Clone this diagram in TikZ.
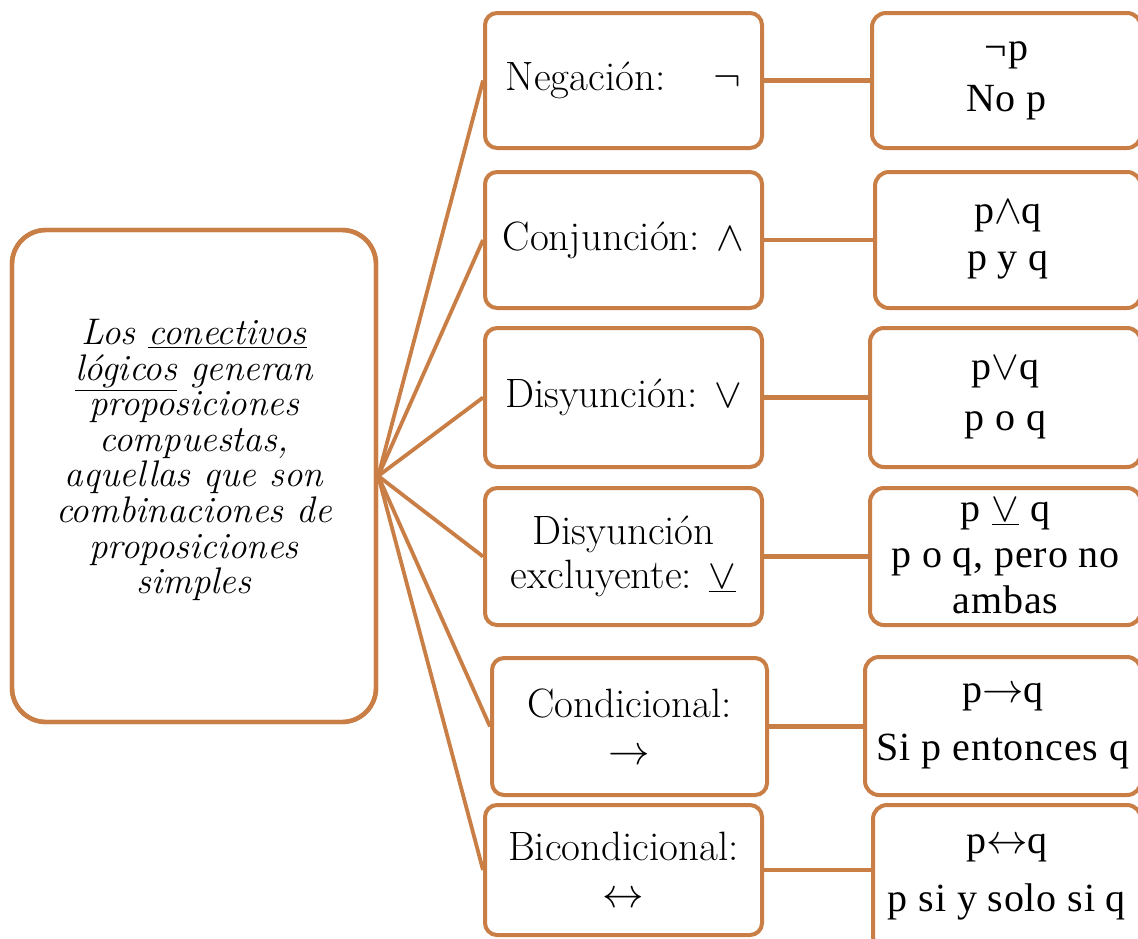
\documentclass[tikz,border=0pt]{standalone}
\usepackage{fontspec}
\newfontfamily\rfont[LetterSpace=2]{Liberation Serif}
\definecolor{brn}{RGB}{201,126,70}
\tikzset{
  basebox/.style={draw=brn, line width=2pt, fill=white, inner sep=0pt, align=center},
  midbox/.style={basebox, rounded corners=6pt, font={\fontsize{20.5}{22}\selectfont}},
  rightbox/.style={basebox, rounded corners=7pt, font={\rfont\fontsize{20}{25}\selectfont}},
  bigbox/.style={draw=brn, line width=2.2pt, fill=white, rounded corners=17pt, inner sep=0pt},
  bigtext/.style={align=center, inner sep=0pt, font={\fontsize{18.5}{17.8}\selectfont\lineskiplimit=-20pt\itshape\addfontfeatures{LetterSpace=5}}},
  fanline/.style={draw=brn, line width=1.9pt},
  hline/.style={draw=brn, line width=2.3pt}
}
\begin{document}
\begin{tikzpicture}[x=0.5pt,y=-0.5pt]
\useasboundingbox (0,0) rectangle (1138,938);
\clip (0,0) rectangle (1138,938);
\fill[white] (0,0) rectangle (1138,938);

% left box
\node[bigbox, minimum width=182pt, minimum height=246pt] (L) at (194,476) {};

% middle boxes
\node[midbox, minimum width=138.5pt, minimum height=67.5pt] (m1) at (623.5,80.5) {Negación:\hspace{24pt}$\neg$};
\node[midbox, minimum width=138.5pt, minimum height=68pt] (m2) at (623.5,240) {Conjunción: $\wedge$};
\node[midbox, minimum width=138.5pt, minimum height=69.5pt] (m3) at (623.5,397.5) {Disyunción: $\vee$};
\node[midbox, minimum width=138.5pt, minimum height=68.5pt] (m4) at (623.5,556.5) {Disyunción\\excluyente: \underline{$\vee$}};
\node[midbox, minimum width=137.5pt, minimum height=68.5pt] (m5) at (629.5,726.5) {Condicional:\\[1.5pt]$\rightarrow$};
\node[midbox, minimum width=138.5pt, minimum height=65pt] (m6) at (623.5,870) {Bicondicional:\\[1.5pt]$\leftrightarrow$};

% right boxes
\node[rightbox, minimum width=134.5pt, minimum height=67.5pt] (r1) at (1006.5,80.5) {¬p\\[0.5pt]No p};
\node[rightbox, minimum width=133pt, minimum height=68pt] (r2) at (1008,240) {p$\wedge$q\\[-1.5pt]p y q};
\node[rightbox, minimum width=135.5pt, minimum height=69.5pt] (r3) at (1005.5,397.5) {p$\vee$q\\[0.5pt]p o q};
\node[rightbox, minimum width=135.5pt, minimum height=68.5pt] (r4) at (1005.5,556.5) {p \underline{$\vee$} q\\[-2pt]p o q, pero no\\[-2pt]ambas};
\node[rightbox, minimum width=138pt, minimum height=69pt] (r5) at (1003,726) {p$\rightarrow$q\\[4pt]Si p entonces q};
\node[rightbox, minimum width=134pt, minimum height=72.5pt] (r6) at (1007,877.5) {p$\leftrightarrow$q\\[4pt]p si y solo si q};

% fan connectors
\foreach \m in {m1,m2,m3,m4,m5,m6}
  \draw[fanline] (L.east) -- (\m.west);

% horizontal connectors
\foreach \i in {1,...,6}
  \draw[hline] (m\i.east) -- (m\i.east -| r\i.west);

% redraw left border over connector ends
\node[bigbox, fill=none, minimum width=182pt, minimum height=246pt] at (194,476) {};

\node[bigtext] (Ltext) at (194,460) {Los \underline{conectivos}\\\underline{lógicos} generan\\proposiciones\\compuestas,\\aquellas que son\\combinaciones de\\proposiciones\\simples};
\end{tikzpicture}
\end{document}
